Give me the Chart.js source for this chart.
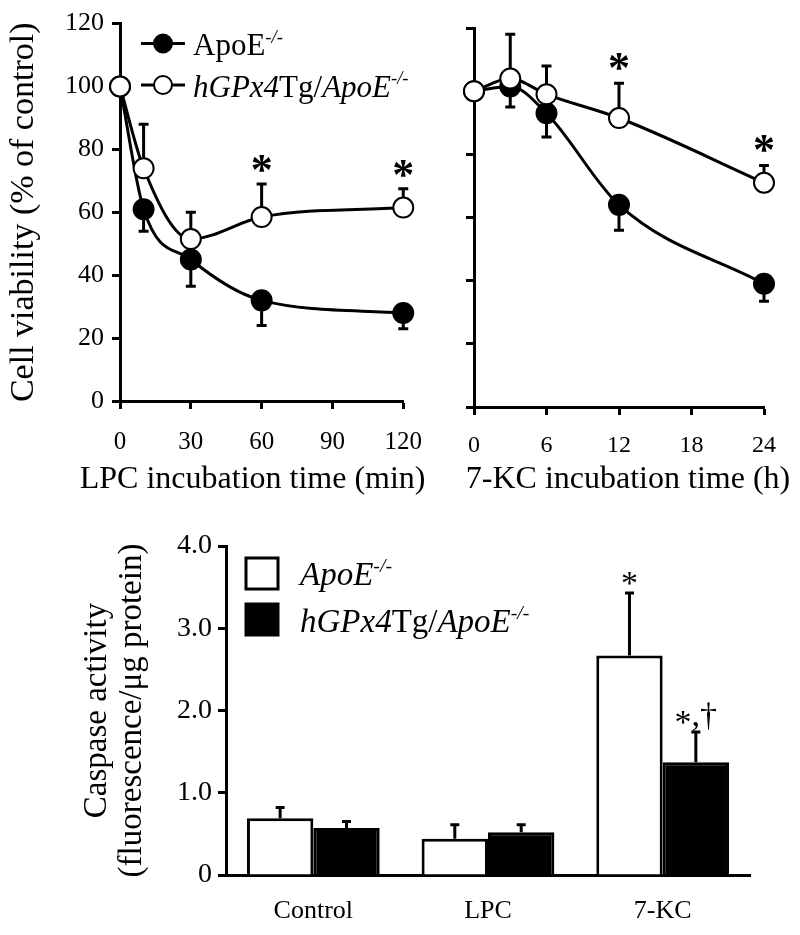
<!DOCTYPE html>
<html>
<head>
<meta charset="utf-8">
<script src="https://cdn.jsdelivr.net/npm/chart.js@4.4.0/dist/chart.umd.min.js"></script>
<style>
  body { margin: 0; background: #fff; }
  #page { position: relative; width: 800px; height: 935px; overflow: hidden; background: #fff; }
  canvas { position: absolute; }
  #lpc { left: 0; top: 0; }
  #kc { left: 440px; top: 0; }
  #cas { left: 0; top: 500px; }
</style>
</head>
<body>
<div id="page">
  <canvas id="lpc" width="440" height="500"></canvas>
  <canvas id="kc" width="360" height="500"></canvas>
  <canvas id="cas" width="800" height="435"></canvas>
</div>
<script>
// ---- data ----
const lpcTimes = [0, 10, 30, 60, 120];
const lpcApoE = [100, 61, 45, 32, 28];
const lpcApoEErr = [0, 7, 8.5, 8, 5];
const lpcTg = [100, 74, 51.5, 58.5, 61.5];
const lpcTgErr = [0, 14, 8.5, 10.5, 6];
const lpcTgMarks = ['', '', '', '*', '*'];

const kcTimes = [0, 3, 6, 12, 24];
const kcApoE = [100, 101.5, 93, 64, 39];
const kcApoEErr = [0, 6.5, 7.5, 8, 5.5];
const kcTg = [100, 104, 99, 91.5, 71];
const kcTgErr = [0, 14, 9, 11, 5.5];
const kcTgMarks = ['', '', '', '*', '*'];

const groups = ['Control', 'LPC', '7-KC'];
const casApoE = [0.69, 0.44, 2.67];
const casApoEErr = [0.13, 0.17, 0.76];
const casTg = [0.57, 0.52, 1.37];
const casTgErr = [0.08, 0.09, 0.37];
const casApoEMarks = ['', '', '*'];
const casTgMarks = ['', '', '*,\u2020'];

// legend text pieces (i = italic, sup = superscript)
const nameApoE = [{ t: 'ApoE' }, { t: '-/-', i: true, sup: true }];
const nameApoEItalic = [{ t: 'ApoE', i: true }, { t: '-/-', i: true, sup: true }];
const nameTg = [{ t: 'hGPx4', i: true }, { t: 'Tg/' }, { t: 'ApoE', i: true }, { t: '-/-', i: true, sup: true }];

const serif = '"Liberation Serif", "Times New Roman", Times, serif';
Chart.defaults.font.family = serif;
Chart.defaults.color = '#000';
Chart.defaults.animation = false;

function xy(xs, ys) { return xs.map((x, i) => ({ x: x, y: ys[i] })); }
function val(d) { return (d !== null && typeof d === 'object') ? d.y : d; }

function drawRich(ctx, x, y, segs, size) {
  ctx.save();
  ctx.textAlign = 'left';
  ctx.textBaseline = 'alphabetic';
  ctx.fillStyle = '#000';
  for (const s of segs) {
    const sz = s.sup ? size * 0.6 : size;
    ctx.font = (s.i ? 'italic ' : '') + sz + 'px ' + serif;
    ctx.fillText(s.t, x, s.sup ? y - size * 0.4 : y);
    x += ctx.measureText(s.t).width;
  }
  ctx.restore();
}

// error bars (one direction) drawn through the y scale
function drawErrors(chart, o) {
  const ctx = chart.ctx, ys = chart.scales.y;
  ctx.save();
  ctx.strokeStyle = '#000';
  ctx.lineWidth = 3;
  chart.data.datasets.forEach((ds, i) => {
    if (!ds.errors) return;
    const meta = chart.getDatasetMeta(i);
    ds.errors.forEach((e, j) => {
      if (!e) return;
      const el = meta.data[j];
      const end = ys.getPixelForValue(val(ds.data[j]) + ds.errDir * e);
      ctx.beginPath();
      ctx.moveTo(el.x, el.y);
      ctx.lineTo(el.x, end);
      ctx.moveTo(el.x - o.cap, end);
      ctx.lineTo(el.x + o.cap, end);
      ctx.stroke();
    });
  });
  ctx.restore();
}

const errorBars = {
  id: 'errorBars',
  beforeDatasetsDraw(chart, args, o) { if (!o.onTop) drawErrors(chart, o); },
  afterDatasetsDraw(chart, args, o) { if (o.onTop) drawErrors(chart, o); }
};

// significance marks above the error bar tops
const sigMarks = {
  id: 'sigMarks',
  afterDatasetsDraw(chart, args, o) {
    const ctx = chart.ctx, ys = chart.scales.y;
    ctx.save();
    ctx.fillStyle = '#000';
    ctx.textAlign = 'left';
    ctx.textBaseline = 'alphabetic';
    ctx.font = o.font;
    chart.data.datasets.forEach((ds, i) => {
      if (!ds.marks) return;
      const meta = chart.getDatasetMeta(i);
      ds.marks.forEach((m, j) => {
        if (!m) return;
        const el = meta.data[j];
        const top = ys.getPixelForValue(val(ds.data[j]) + (ds.errDir > 0 ? ds.errors[j] : 0));
        const base = top - o.gap;
        let x = el.x - ctx.measureText(m).width / 2;
        for (const ch of m) {
          ctx.fillText(ch, x, base + (ch === '*' ? (o.starDrop || 0) : 0));
          x += ctx.measureText(ch).width;
        }
      });
    });
    ctx.restore();
  }
};

// x axis title without the width squeeze chart.js applies
const xTitle = {
  id: 'xTitle',
  afterDraw(chart, args, o) {
    const ctx = chart.ctx, a = chart.chartArea;
    ctx.save();
    ctx.fillStyle = '#000';
    ctx.font = o.size + 'px ' + serif;
    ctx.textAlign = 'center';
    ctx.textBaseline = 'middle';
    ctx.fillText(o.text, (a.left + a.right) / 2 + o.dx, o.y);
    ctx.restore();
  }
};

const lineLegend = {
  id: 'lineLegend',
  afterDraw(chart) {
    const ctx = chart.ctx;
    const rows = [
      { cy: 43.5, fill: '#000', text: nameApoE },
      { cy: 85, fill: '#fff', text: nameTg }
    ];
    rows.forEach(r => {
      ctx.save();
      ctx.strokeStyle = '#000';
      ctx.lineWidth = 3;
      ctx.beginPath();
      ctx.moveTo(141, r.cy);
      ctx.lineTo(185, r.cy);
      ctx.stroke();
      ctx.beginPath();
      ctx.arc(163, r.cy, 9, 0, Math.PI * 2);
      ctx.fillStyle = r.fill;
      ctx.fill();
      ctx.lineWidth = 2;
      ctx.stroke();
      ctx.restore();
      drawRich(ctx, 193, r.cy + 11.5, r.text, 31);
    });
  }
};

const barLegend = {
  id: 'barLegend',
  afterDraw(chart) {
    const ctx = chart.ctx;
    const rows = [
      { top: 58, fill: '#fff', text: nameApoEItalic, base: 85 },
      { top: 104, fill: '#000', text: nameTg, base: 132 }
    ];
    rows.forEach(r => {
      ctx.save();
      ctx.fillStyle = r.fill;
      ctx.fillRect(246, r.top, 32, 31);
      ctx.strokeStyle = '#000';
      ctx.lineWidth = 3;
      ctx.strokeRect(246, r.top, 32, 31);
      ctx.restore();
      drawRich(ctx, 300, r.base, r.text, 33);
    });
  }
};

function axisStyle(len) {
  return {
    grid: { display: true, drawOnChartArea: false, drawTicks: true, tickLength: len, tickWidth: 3, tickColor: '#000' },
    border: { display: true, color: '#000', width: 3 }
  };
}

function lineDatasets(times, a, aErr, t, tErr, tMarks) {
  return [
    {
      label: 'ApoE-/-', data: xy(times, a), errors: aErr, errDir: -1,
      borderColor: '#000', borderWidth: 3, pointBackgroundColor: '#000', pointBorderColor: '#000',
      pointRadius: 10, pointBorderWidth: 2, cubicInterpolationMode: 'monotone', clip: false, order: 2
    },
    {
      label: 'hGPx4Tg/ApoE-/-', data: xy(times, t), errors: tErr, errDir: 1, marks: tMarks,
      borderColor: '#000', borderWidth: 3, pointBackgroundColor: '#fff', pointBorderColor: '#000',
      pointRadius: 10, pointBorderWidth: 2, cubicInterpolationMode: 'monotone', clip: false, order: 1
    }
  ];
}

// ---- LPC panel ----
new Chart(document.getElementById('lpc'), {
  type: 'line',
  data: { datasets: lineDatasets(lpcTimes, lpcApoE, lpcApoEErr, lpcTg, lpcTgErr, lpcTgMarks) },
  plugins: [errorBars, sigMarks, lineLegend, xTitle],
  options: {
    responsive: false,
    layout: { padding: { top: 20, right: 34, left: 0, bottom: 0 } },
    plugins: {
      legend: { display: false }, tooltip: { enabled: false },
      errorBars: { onTop: false, cap: 5 },
      sigMarks: { font: 'bold 44px ' + serif, gap: 0 },
      xTitle: { text: 'LPC incubation time (min)', size: 32, dx: -9, y: 480 }
    },
    scales: {
      x: Object.assign({
        type: 'linear', min: 0, max: 120,
        ticks: { stepSize: 30, padding: 18, font: { size: 25 }, maxRotation: 0 },
        afterFit(s) { s.height = 99; }
      }, axisStyle(8)),
      y: Object.assign({
        min: 0, max: 120,
        ticks: { stepSize: 20, padding: 8, font: { size: 26 } },
        title: { display: true, text: 'Cell viability (% of control)', font: { size: 34 }, padding: { top: 4, bottom: 0 } },
        afterFit(s) { s.width = 120; }
      }, axisStyle(8))
    }
  }
});

// ---- 7-KC panel ----
new Chart(document.getElementById('kc'), {
  type: 'line',
  data: { datasets: lineDatasets(kcTimes, kcApoE, kcApoEErr, kcTg, kcTgErr, kcTgMarks) },
  plugins: [errorBars, sigMarks, xTitle],
  options: {
    responsive: false,
    layout: { padding: { top: 28, right: 36, left: 0, bottom: 0 } },
    plugins: {
      legend: { display: false }, tooltip: { enabled: false },
      errorBars: { onTop: false, cap: 5 },
      sigMarks: { font: 'bold 44px ' + serif, gap: 1 },
      xTitle: { text: '7-KC incubation time (h)', size: 32, dx: 9, y: 480 }
    },
    scales: {
      x: Object.assign({
        type: 'linear', min: 0, max: 24,
        ticks: { stepSize: 6, padding: 16, font: { size: 24 }, maxRotation: 0 },
        afterFit(s) { s.height = 93; }
      }, axisStyle(8)),
      y: Object.assign({
        min: 0, max: 120,
        ticks: { stepSize: 20, display: false },
        afterFit(s) { s.width = 34; }
      }, axisStyle(8))
    }
  }
});

// ---- caspase panel ----
new Chart(document.getElementById('cas'), {
  type: 'bar',
  data: {
    labels: groups,
    datasets: [
      { label: 'ApoE-/-', data: casApoE, errors: casApoEErr, errDir: 1, marks: casApoEMarks,
        backgroundColor: '#fff', borderColor: '#000', borderWidth: 3 },
      { label: 'hGPx4Tg/ApoE-/-', data: casTg, errors: casTgErr, errDir: 1, marks: casTgMarks,
        backgroundColor: '#000', borderColor: '#000', borderWidth: 3 }
    ]
  },
  plugins: [errorBars, sigMarks, barLegend],
  options: {
    responsive: false,
    layout: { padding: { top: 46, right: 50, left: 0, bottom: 0 } },
    datasets: { bar: { categoryPercentage: 0.76, barPercentage: 1 } },
    plugins: {
      legend: { display: false }, tooltip: { enabled: false },
      errorBars: { onTop: true, cap: 4.5 },
      sigMarks: { font: '34px ' + serif, gap: 6, starDrop: 7 }
    },
    scales: {
      x: {
        grid: { display: true, drawOnChartArea: false, drawTicks: false },
        border: { display: true, color: '#000', width: 3 },
        ticks: { padding: 21, font: { size: 26 } },
        afterFit(s) { s.height = 60; }
      },
      y: Object.assign({
        min: 0, max: 4,
        ticks: { stepSize: 1, padding: 6, font: { size: 28 }, callback: v => v === 0 ? '0' : v.toFixed(1) },
        title: { display: true, text: ['Caspase activity', '(fluorescence/\u03bcg protein)'], font: { size: 33, lineHeight: '35px' }, padding: { top: 80, bottom: 0 } },
        afterFit(s) { s.width = 226; }
      }, axisStyle(8))
    }
  }
});
</script>
</body>
</html>
